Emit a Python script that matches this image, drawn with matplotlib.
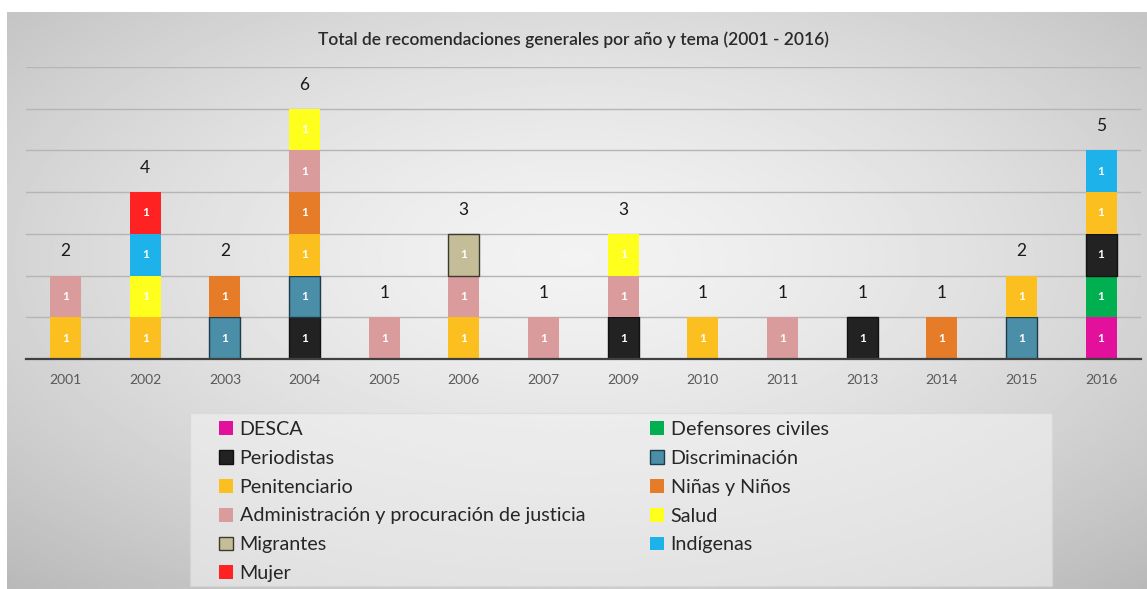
import numpy as np
import matplotlib.pyplot as plt
from matplotlib.patches import Rectangle

plt.rcParams['font.family'] = ['Lato', 'DejaVu Sans']

# Data
years = ["2001", "2002", "2003", "2004", "2005", "2006", "2007",
         "2009", "2010", "2011", "2013", "2014", "2015", "2016"]

desca          = [0, 0, 0, 0, 0, 0, 0, 0, 0, 0, 0, 0, 0, 1]
defensores     = [0, 0, 0, 0, 0, 0, 0, 0, 0, 0, 0, 0, 0, 1]
periodistas    = [0, 0, 0, 1, 0, 0, 0, 1, 0, 0, 1, 0, 0, 1]
discriminacion = [0, 0, 1, 1, 0, 0, 0, 0, 0, 0, 0, 0, 1, 0]
penitenciario  = [1, 1, 0, 1, 0, 1, 0, 0, 1, 0, 0, 0, 1, 1]
ninos          = [0, 0, 1, 1, 0, 0, 0, 0, 0, 0, 0, 1, 0, 0]
administracion = [1, 0, 0, 1, 1, 1, 1, 1, 0, 1, 0, 0, 0, 0]
salud          = [0, 1, 0, 1, 0, 0, 0, 1, 0, 0, 0, 0, 0, 0]
migrantes      = [0, 0, 0, 0, 0, 1, 0, 0, 0, 0, 0, 0, 0, 0]
indigenas      = [0, 1, 0, 0, 0, 0, 0, 0, 0, 0, 0, 0, 0, 1]
mujer          = [0, 1, 0, 0, 0, 0, 0, 0, 0, 0, 0, 0, 0, 0]

series = [
    ("DESCA", desca, "#e3109c", None),
    ("Defensores civiles", defensores, "#00b050", None),
    ("Periodistas", periodistas, "#222222", "#111111"),
    ("Discriminación", discriminacion, "#4a8ea8", "#1e3c4a"),
    ("Penitenciario", penitenciario, "#fbc01f", None),
    ("Niñas y Niños", ninos, "#e67c28", None),
    ("Administración y procuración de justicia", administracion, "#d99b9b", None),
    ("Salud", salud, "#ffff1e", None),
    ("Migrantes", migrantes, "#c4bd97", "#3a3a30"),
    ("Indígenas", indigenas, "#1eb2ea", None),
    ("Mujer", mujer, "#ff2222", None),
]

W, H = 1147, 589
fig = plt.figure(figsize=(W / 100, H / 100), dpi=100)
fig.patch.set_facecolor("white")

# gradient background panel
bg = fig.add_axes([7 / W, 0, (W - 7) / W, (H - 12) / H])
ny, nx = 300, 600
yy, xx = np.mgrid[-1:1:ny * 1j, -1:1:nx * 1j]
r = np.sqrt(xx ** 2 + (yy + 0.15) ** 2)
grad = 0.95 - 0.12 * r ** 1.5
bg.imshow(grad, cmap="gray", vmin=0, vmax=1, aspect="auto", extent=[0, 1, 0, 1])
bg.axis("off")

# legend box
fig.patches.append(Rectangle((190 / W, 3 / H), 862 / W, 173 / H, transform=fig.transFigure,
                             facecolor="#f2f2f2", alpha=0.6, edgecolor="#d6d6d6", lw=1, zorder=1))

ax = fig.add_axes([25.7 / W, (H - 359) / H, (1141 - 25.7) / W, 292 / H])
ax.patch.set_alpha(0)
x = np.arange(len(years))
bottom = np.zeros(len(years))
handles = []
for name, vals, color, edge in series:
    vals = np.array(vals, dtype=float)
    idx = vals > 0
    bars = ax.bar(x[idx], vals[idx], 0.39, bottom=bottom[idx], color=color,
                  edgecolor=edge if edge else color, linewidth=1 if edge else 0,
                  label=name, zorder=3)
    ax.bar_label(bars, label_type="center", color="white", fontsize=8.5, fontweight="bold")
    handles.append(bars)
    bottom += vals

for i, t in enumerate(bottom):
    ax.text(i, t + 0.58, f"{int(t)}", ha="center", va="center", fontsize=12.5, color="#1a1a1a")

ax.set_xlim(-0.5, len(years) - 0.5)
ax.set_ylim(0, 7)
ax.set_yticks(range(1, 8))
ax.yaxis.grid(True, color="#b5b5b5", lw=1, zorder=0)
ax.tick_params(axis="y", length=0, labelleft=False)
ax.set_xticks(x, years)
ax.tick_params(axis="x", length=0, pad=11, labelsize=10, labelcolor="#595959")
for s in ["left", "right", "top"]:
    ax.spines[s].set_visible(False)
ax.spines["bottom"].set_color("#404040")
ax.spines["bottom"].set_linewidth(1.6)
ax.spines["bottom"].set_zorder(4)

fig.text(0.5, (H - 40) / H, "Total de recomendaciones generales por año y tema (2001 - 2016)",
         ha="center", va="center", fontsize=12.5, fontweight="semibold", color="#2a2a2a")

kw = dict(frameon=False, borderpad=0, handlelength=0.7, handleheight=0.7, handletextpad=0.35,
          labelspacing=0.6, prop={"size": 14.2}, labelcolor="#262626", borderaxespad=0)
leg1 = fig.legend(handles[0::2], [s[0] for s in series[0::2]], loc="upper left",
                  bbox_to_anchor=(219 / W, (H - 421) / H), **kw)
leg2 = fig.legend(handles[1::2], [s[0] for s in series[1::2]], loc="upper left",
                  bbox_to_anchor=(650 / W, (H - 421) / H), **kw)

fig.savefig("out.png", dpi=100)
